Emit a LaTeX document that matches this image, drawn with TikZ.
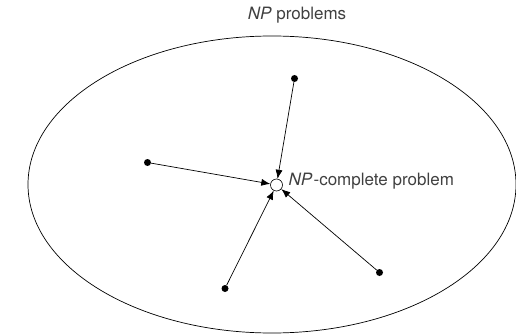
\documentclass[tikz,border=0pt]{standalone}
\usepackage{fontspec}
\setmainfont{TeX Gyre Heros}
\usetikzlibrary{arrows.meta}
\definecolor{txt}{HTML}{404040}
\begin{document}
\begin{tikzpicture}[x=1pt,y=-1pt,
  dotnode/.style={circle,fill=black,inner sep=0pt,minimum size=7pt},
  hub/.style={circle,draw=black,fill=white,line width=0.6pt,inner sep=0pt,minimum size=12pt},
  conn/.style={line width=0.7pt,-{Latex[length=9pt,width=7pt]}},
  lbl/.style={text=txt,font=\fontsize{17}{20}\selectfont,inner sep=0pt}]
\useasboundingbox (0,0) rectangle (516,334);
\draw[line width=0.7pt] (272,184.5) ellipse [x radius=244, y radius=148.5];
\node[lbl,anchor=base] (title) at (297,20) {\textit{NP} problems};
\node[hub] (c) at (276.5,185) {};
\node[dotnode] (a) at (294.5,78.5) {};
\node[dotnode] (b) at (147.5,162.5) {};
\node[dotnode] (d) at (225,288.5) {};
\node[dotnode] (e) at (379.5,272.5) {};
\draw[conn] (a) -- (c);
\draw[conn] (b) -- (c);
\draw[conn] (d) -- (c);
\draw[conn] (e) -- (c);
\node[lbl,anchor=base west] (lab) at (288.5,185.5) {\textit{NP}\kern1pt-complete problem};
\end{tikzpicture}
\end{document}
